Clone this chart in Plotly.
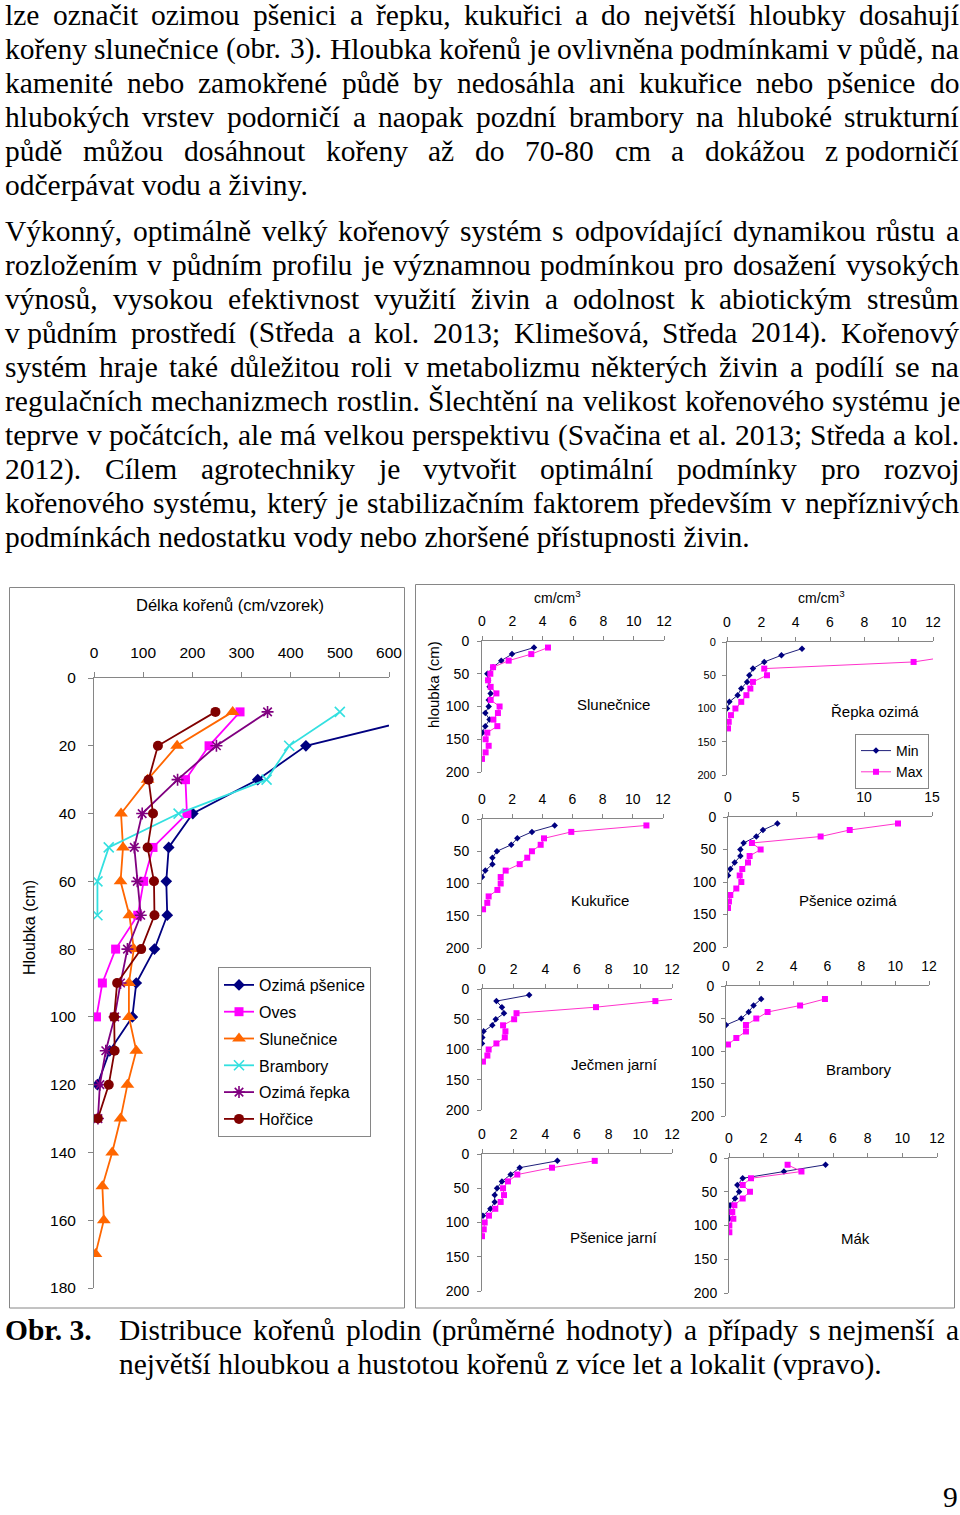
import unicodedata
import plotly.graph_objects as go

# ---------------- DATA ----------------
# Left chart: root length (cm / sample) by depth (cm)
pse_depth = [10, 20, 30, 40, 50, 60, 70, 80, 90, 100, 110, 120]
pse_len = [713, 431, 333, 201, 152, 147, 149, 123, 86, 78, 32, 7]
oves_depth = [10, 20, 30, 40, 50, 60, 70, 80, 90, 100]
oves_len = [297, 234, 186, 189, 120, 101, 89, 44, 17, 5]
slun_depth = [10, 20, 30, 40, 50, 60, 70, 80, 90, 100, 110, 120, 130, 140, 150, 160, 170]
slun_len = [282, 169, 109, 55, 59, 54, 72, 81, 71, 71, 86, 68, 54, 37, 17, 20, 3]
bram_depth = [10, 20, 30, 40, 50, 60, 70]
bram_len = [500, 397, 351, 172, 30, 7, 7]
repka_depth = [10, 20, 30, 40, 50, 60, 70, 80, 90, 100, 110, 120, 130]
repka_len = [353, 249, 170, 98, 82, 88, 95, 68, 54, 42, 24, 12, 8]
horc_depth = [10, 20, 30, 40, 50, 60, 70, 80, 90, 100, 110, 120, 130]
horc_len = [247, 130, 111, 120, 109, 122, 123, 96, 47, 41, 42, 30, 8]
left_names = ["Ozimá pšenice", "Oves", "Slunečnice", "Brambory", "Ozimá řepka", "Hořčice"]
left_x_ticks = [0, 100, 200, 300, 400, 500, 600]
left_y_ticks = [0, 20, 40, 60, 80, 100, 120, 140, 160, 180]

# Right panels: root density (cm/cm3), Min and Max, by depth (cm)
sl_min_d = [10, 20, 30, 40, 50, 60, 70, 80, 90, 100, 110, 120, 130, 140]
sl_min = [3.43, 1.98, 1.27, 0.73, 0.35, 0.40, 0.50, 0.57, 0.44, 0.44, 0.22, 0.50, 0.22, 0.02]
sl_max_d = [10, 20, 30, 40, 50, 60, 70, 80, 90, 100, 110, 120, 130, 140, 150, 160, 170, 180]
sl_max = [4.35, 3.25, 1.76, 0.73, 0.55, 0.40, 0.57, 0.95, 0.57, 1.16, 1.05, 0.75, 1.01, 0.35, 0.24, 0.44, 0.24, 0.0]

rp_min_d = [10, 20, 30, 40, 50, 60, 70, 80, 90, 100]
rp_min = [4.37, 3.17, 2.17, 1.51, 1.30, 1.17, 0.83, 0.62, 0.14, 0.0]
rp_max_d = [20, 30, 40, 50, 60, 70, 80, 90, 100, 110, 120, 130]
rp_max = [13.4, 10.87, 2.17, 2.33, 1.51, 1.36, 1.13, 0.83, 0.49, 0.23, 0.10, 0.06]

ku_min_d = [10, 20, 30, 40, 50, 60, 70, 80, 90]
ku_min = [4.82, 3.31, 2.34, 1.94, 0.99, 0.69, 0.69, 0.22, 0.0]
ku_max_d = [10, 20, 30, 40, 50, 60, 70, 80, 90, 100, 110, 120, 130, 140]
ku_max = [10.9, 5.92, 4.11, 3.89, 3.31, 3.0, 2.5, 1.57, 1.24, 1.24, 1.02, 0.44, 0.35, 0.07]

po_min_d = [10, 20, 30, 40, 50, 60, 70, 80, 90]
po_min = [3.63, 2.57, 2.08, 1.15, 0.91, 0.91, 0.49, 0.17, 0.0]
po_max_d = [10, 20, 30, 40, 50, 60, 70, 80, 90, 100, 110, 120, 130, 140]
po_max = [12.5, 8.95, 6.81, 1.76, 2.4, 1.59, 1.47, 1.05, 0.86, 0.98, 0.61, 0.17, 0.07, 0.0]

je_min_d = [10, 20, 30, 40, 50, 60, 70, 80, 90]
je_min = [2.98, 0.91, 1.26, 1.39, 0.87, 0.65, 0.10, 0.02, 0.0]
je_max_d = [10, 20, 30, 40, 50, 60, 70, 80, 90, 100, 110, 120]
je_max = [14.7, 10.95, 7.2, 2.18, 2.03, 1.33, 1.48, 1.44, 0.91, 0.42, 0.34, 0.06]

br_min_d = [20, 30, 40, 50, 60]
br_min = [2.08, 1.63, 1.34, 0.90, 0.0]
br_max_d = [20, 30, 40, 50, 60, 70, 80, 90]
br_max = [5.85, 4.38, 2.46, 1.79, 1.18, 1.18, 0.61, 0.12]

pj_min_d = [10, 20, 30, 40, 50, 60, 70, 80, 90]
pj_min = [4.76, 2.38, 1.81, 1.26, 0.95, 0.80, 0.80, 0.53, 0.06]
pj_max_d = [10, 20, 30, 40, 50, 60, 70, 80, 90, 100, 110, 120]
pj_max = [7.12, 4.42, 2.23, 1.64, 1.33, 1.39, 1.18, 0.84, 0.44, 0.17, 0.11, 0.0]

mk_min_d = [10, 20, 30, 40, 50, 60, 70, 80, 90]
mk_min = [5.57, 3.17, 0.79, 0.48, 0.58, 0.35, 0.06, 0.06, 0.0]
mk_max_d = [10, 20, 30, 40, 50, 60, 70, 80, 90, 100, 110]
mk_max = [3.38, 4.18, 1.27, 0.79, 1.21, 0.79, 0.31, 0.19, 0.25, 0.02, 0.02]

panel_names = ["Slunečnice", "Řepka ozimá", "Kukuřice", "Pšenice ozimá",
               "Ječmen jarní", "Brambory", "Pšenice jarní", "Mák"]
panel_min = [(sl_min_d, sl_min), (rp_min_d, rp_min), (ku_min_d, ku_min), (po_min_d, po_min),
             (je_min_d, je_min), (br_min_d, br_min), (pj_min_d, pj_min), (mk_min_d, mk_min)]
panel_max = [(sl_max_d, sl_max), (rp_max_d, rp_max), (ku_max_d, ku_max), (po_max_d, po_max),
             (je_max_d, je_max), (br_max_d, br_max), (pj_max_d, pj_max), (mk_max_d, mk_max)]
panel_xmax = [12, 12, 12, 15, 12, 12, 12, 12]
panel_dtick = [2, 2, 2, 5, 2, 2, 2, 2]
right_y_ticks = [0, 50, 100, 150, 200]

para1 = [
    "lze označit ozimou pšenici a řepku, kukuřici a do největší hloubky dosahují",
    "kořeny slunečnice (obr. 3). Hloubka kořenů je ovlivněna podmínkami v půdě, na",
    "kamenité nebo zamokřené půdě by nedosáhla ani kukuřice nebo pšenice do",
    "hlubokých vrstev podorničí a naopak pozdní brambory na hluboké strukturní",
    "půdě můžou dosáhnout kořeny až do 70-80 cm a dokážou z\u00a0podorničí",
    "odčerpávat vodu a živiny.",
]
para2 = [
    "Výkonný, optimálně velký kořenový systém s odpovídající dynamikou růstu a",
    "rozložením v půdním profilu je významnou podmínkou pro dosažení vysokých",
    "výnosů, vysokou efektivnost využití živin a odolnost k abiotickým stresům",
    "v\u00a0půdním prostředí (Středa a kol. 2013; Klimešová, Středa 2014). Kořenový",
    "systém hraje také důležitou roli v\u00a0metabolizmu některých živin a podílí se na",
    "regulačních mechanizmech rostlin. Šlechtění na velikost kořenového systému je",
    "teprve v počátcích, ale má velkou perspektivu (Svačina et al. 2013; Středa a kol.",
    "2012). Cílem agrotechniky je vytvořit optimální podmínky pro rozvoj",
    "kořenového systému, který je stabilizačním faktorem především v nepříznivých",
    "podmínkách nedostatku vody nebo zhoršené přístupnosti živin.",
]
caption_label = "Obr. 3."
caption_lines = [
    "Distribuce kořenů plodin (průměrné hodnoty) a případy s\u00a0nejmenší a",
    "největší hloubkou a hustotou kořenů z více let a lokalit (vpravo).",
]
page_number = "9"

# ---------------- HELPERS ----------------
W, H = 960, 1515


def px(x):
    return x / W


def py(y):
    return 1 - y / H


SERIF = "Liberation Serif"
SANS = "Liberation Sans"
TFS = 29.5

TW = {' ': 250, '\u00a0': 250, '!': 333, '(': 333, ')': 333, ',': 250, '-': 333, '.': 250, ':': 278, ';': 278}
for d in "0123456789":
    TW[d] = 500
TW.update(dict(zip("ABCDEFGHIJKLMNOPQRSTUVWXYZ",
                   [722, 667, 667, 722, 611, 556, 722, 722, 333, 389, 722, 611, 889, 722, 722, 556, 722, 667, 556, 611, 722, 722, 944, 722, 722, 611])))
TW.update(dict(zip("abcdefghijklmnopqrstuvwxyz",
                   [444, 500, 444, 500, 444, 333, 500, 500, 278, 278, 500, 278, 778, 500, 500, 500, 500, 333, 389, 278, 500, 500, 722, 500, 500, 444])))


def cw(ch):
    if ch in TW:
        return TW[ch]
    base = unicodedata.normalize("NFD", ch)[0]
    return TW.get(base, 500)


def text_w(s, fs):
    return sum(cw(c) for c in s) / 1000 * fs


annotations = []


def add_text(s, x, y, fs=TFS, family=SANS, anchor="left", bold=False, angle=0, yanchor="middle"):
    t = f"<b>{s}</b>" if bold else s
    annotations.append(dict(x=px(x), y=py(y), xref="paper", yref="paper", text=t, showarrow=False,
                            xanchor=anchor, yanchor=yanchor, borderpad=0, textangle=angle,
                            font=dict(family=family, size=fs, color="black")))


def add_line(s, x0, x1, y, justify):
    if not justify:
        add_text(s, x0, y, family=SERIF)
        return
    words = s.split(" ")
    widths = [text_w(w, TFS) for w in words]
    gap = (x1 - x0 - sum(widths)) / (len(words) - 1)
    x = x0
    for w, wd in zip(words, widths):
        add_text(w, x, y, family=SERIF)
        x += wd + gap


# ---------------- TEXT ----------------
LX0, LX1 = 4, 958
for i, s in enumerate(para1):
    add_line(s, LX0, LX1, 15 + 34 * i, i < len(para1) - 1)
for i, s in enumerate(para2):
    add_line(s, LX0, LX1, 231 + 34 * i, i < len(para2) - 1)
add_text(caption_label, 4, 1330, family=SERIF, bold=True)
add_line(caption_lines[0], 118, LX1, 1330, True)
add_line(caption_lines[1], 118, LX1, 1364, False)
add_text(page_number, 950, 1514, family=SERIF, anchor="center", yanchor="bottom")

# ---------------- FIGURE ----------------
fig = go.Figure()

GRAY = "#868686"

# Left chart traces
left_data = [(pse_depth, pse_len), (oves_depth, oves_len), (slun_depth, slun_len),
             (bram_depth, bram_len), (repka_depth, repka_len), (horc_depth, horc_len)]
left_colors = ["#000080", "#FF00FF", "#FF6600", "#33E0E0", "#800080", "#800000"]
left_symbols = ["diamond", "square", "triangle-up", "x-thin-open", "asterisk-open", "circle"]
left_msize = [9, 9, 12, 10, 10, 10]
for i, ((d, v), name) in enumerate(zip(left_data, left_names)):
    open_sym = left_symbols[i].endswith("open")
    fig.add_trace(go.Scatter(
        x=v, y=d, name=name, mode="lines+markers", xaxis="x", yaxis="y",
        legend="legend", legendgroup=f"g{i}",
        line=dict(color=left_colors[i], width=1.8),
        marker=dict(symbol=left_symbols[i], size=left_msize[i], color=left_colors[i],
                    line=dict(color=left_colors[i], width=1.6 if open_sym else 0)),
    ))

# Right panels
layout_axes = {}
panel_box = [(482, 664, 641, 772), (727, 933, 642, 775), (482, 663, 819, 948), (728, 932, 817, 947),
             (482, 672, 989, 1110), (726, 929, 986, 1116), (482, 672, 1154, 1291), (729, 937, 1158, 1293)]
panel_title_pos = [(613, 704), (875, 711), (600, 900), (848, 900), (614, 1064), (859, 1069), (614, 1237), (855, 1238)]

for k in range(8):
    ax = k + 2
    (dmin, vmin), (dmax, vmax) = panel_min[k], panel_max[k]
    fig.add_trace(go.Scatter(
        x=vmin, y=dmin, name="Min", mode="lines+markers", xaxis=f"x{ax}", yaxis=f"y{ax}",
        legend="legend2", showlegend=(k == 1),
        line=dict(color="#1F1F7A", width=1), marker=dict(symbol="diamond", size=5, color="#000080")))
    fig.add_trace(go.Scatter(
        x=vmax, y=dmax, name="Max", mode="lines+markers", xaxis=f"x{ax}", yaxis=f"y{ax}",
        legend="legend2", showlegend=(k == 1),
        line=dict(color="#FF33CC", width=1), marker=dict(symbol="square", size=6, color="#FF00FF")))

    x0, x1, y0, y1 = panel_box[k]
    layout_axes[f"xaxis{ax}"] = dict(
        domain=[px(x0), px(x1)], range=[0, panel_xmax[k]], side="top", anchor=f"y{ax}",
        tickmode="linear", tick0=0, dtick=panel_dtick[k], ticks="outside", ticklen=4,
        tickcolor=GRAY, showline=True, linecolor=GRAY, linewidth=1, showgrid=False, zeroline=False,
        tickfont=dict(family=SANS, size=14, color="black"), ticklabelstandoff=4, fixedrange=True,
        automargin=False)
    layout_axes[f"yaxis{ax}"] = dict(
        domain=[py(y1), py(y0)], range=[200, 0], anchor=f"x{ax}",
        tickmode="array", tickvals=right_y_ticks, ticks="outside", ticklen=4,
        tickcolor=GRAY, showline=True, linecolor=GRAY, linewidth=1, showgrid=False, zeroline=False,
        tickfont=dict(family=SANS, size=11 if k == 1 else 14, color="black"),
        ticklabelstandoff=5 if k % 2 == 0 else 4, fixedrange=True, automargin=False)
    tx, ty = panel_title_pos[k]
    add_text(panel_names[k], tx, ty, fs=15, anchor="center")

# chart titles
for cx in (557, 821):
    add_text("cm/cm<sup>3</sup>", cx, 597, fs=14, anchor="center")
add_text("hloubka (cm)", 433, 685, fs=15, anchor="center", angle=-90)
add_text("Délka kořenů (cm/vzorek)", 230, 605, fs=16.5, anchor="center")
add_text("Hloubka (cm)", 30, 928, fs=16, anchor="center", angle=-90)

shapes = [
    dict(type="rect", xref="paper", yref="paper", x0=px(9.5), x1=px(404.5), y0=py(1308), y1=py(587.5),
         line=dict(color=GRAY, width=1)),
    dict(type="rect", xref="paper", yref="paper", x0=px(415.5), x1=px(954.5), y0=py(1308), y1=py(584.5),
         line=dict(color=GRAY, width=1)),
]

fig.update_layout(
    width=W, height=H, margin=dict(l=0, r=0, t=0, b=0, pad=0, autoexpand=False),
    paper_bgcolor="white", plot_bgcolor="rgba(0,0,0,0)",
    xaxis=dict(domain=[px(94), px(389)], range=[0, 600], side="top", anchor="y",
               tickmode="array", tickvals=left_x_ticks, ticks="outside", ticklen=5,
               tickcolor=GRAY, showline=True, linecolor=GRAY, linewidth=1, showgrid=False, zeroline=False,
               tickfont=dict(family=SANS, size=15.5, color="black"), ticklabelstandoff=8, fixedrange=True,
               automargin=False),
    yaxis=dict(domain=[py(1288), py(678)], range=[180, 0], anchor="x",
               tickmode="array", tickvals=left_y_ticks, ticks="outside", ticklen=5,
               tickcolor=GRAY, showline=True, linecolor=GRAY, linewidth=1, showgrid=False, zeroline=False,
               tickfont=dict(family=SANS, size=15.5, color="black"), ticklabelstandoff=9, fixedrange=True,
               automargin=False),
    legend=dict(x=px(218), y=py(967), xanchor="left", yanchor="top", bgcolor="white",
                bordercolor=GRAY, borderwidth=1, font=dict(family=SANS, size=16, color="black"),
                itemwidth=30, tracegroupgap=3, traceorder="grouped"),
    legend2=dict(x=px(855), y=py(734), xanchor="left", yanchor="top", bgcolor="white",
                 bordercolor=GRAY, borderwidth=1, font=dict(family=SANS, size=14, color="black"),
                 itemwidth=30, tracegroupgap=0),
    annotations=annotations, shapes=shapes,
    **layout_axes,
)

fig.write_html(
    "out.html",
    config={"displayModeBar": False},
    post_script="document.body.style.margin='0';document.body.style.overflow='hidden';",
)
